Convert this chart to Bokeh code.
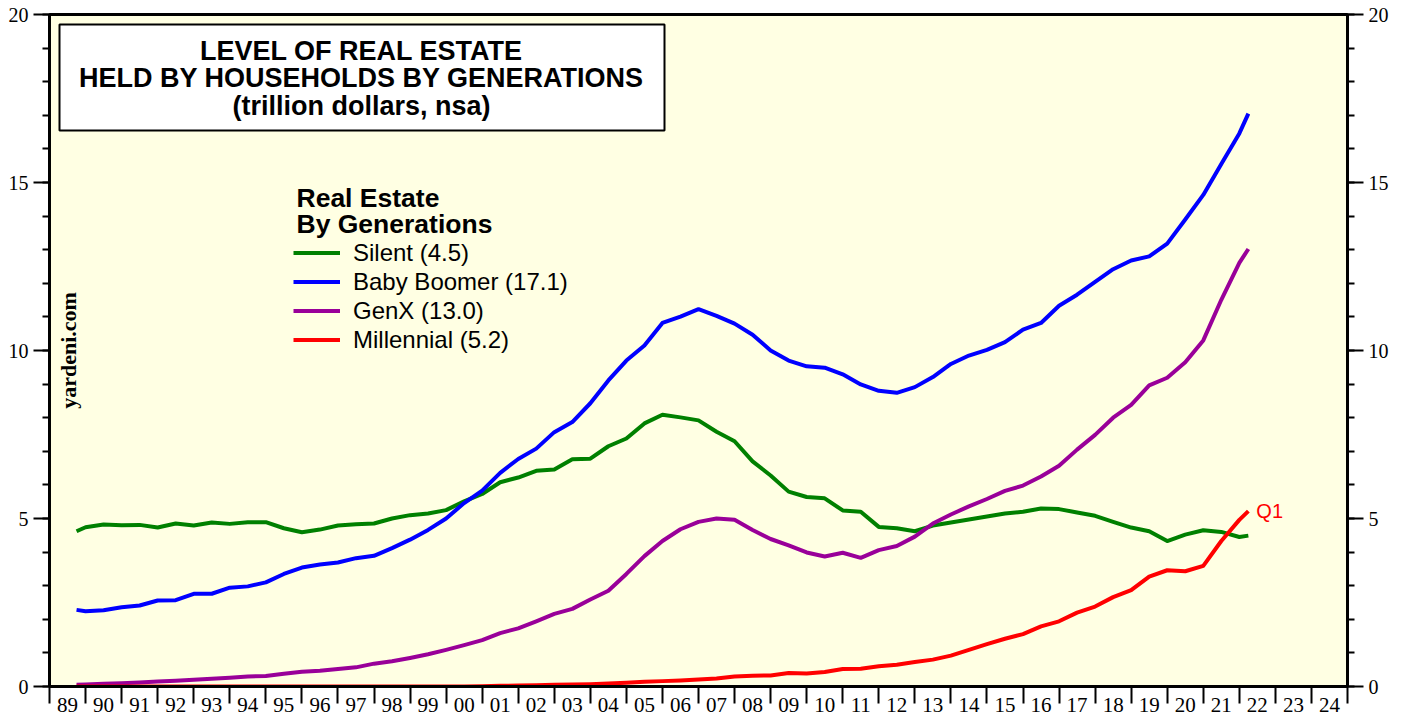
import math
from bokeh.plotting import figure
from bokeh.models import FixedTicker, LinearAxis, Range1d, Label, BoxAnnotation
from bokeh.embed import file_html
from bokeh.resources import INLINE

# ---------------- data (trillion dollars, nsa) ----------------
quarters = ["1989Q3", "1989Q4",
            "1990Q2", "1990Q4", "1991Q2", "1991Q4", "1992Q2", "1992Q4", "1993Q2", "1993Q4",
            "1994Q2", "1994Q4", "1995Q2", "1995Q4", "1996Q2", "1996Q4", "1997Q2", "1997Q4",
            "1998Q2", "1998Q4", "1999Q2", "1999Q4", "2000Q2", "2000Q4", "2001Q2", "2001Q4",
            "2002Q2", "2002Q4", "2003Q2", "2003Q4", "2004Q2", "2004Q4", "2005Q2", "2005Q4",
            "2006Q2", "2006Q4", "2007Q2", "2007Q4", "2008Q2", "2008Q4", "2009Q2", "2009Q4",
            "2010Q2", "2010Q4", "2011Q2", "2011Q4", "2012Q2", "2012Q4", "2013Q2", "2013Q4",
            "2014Q2", "2014Q4", "2015Q2", "2015Q4", "2016Q2", "2016Q4", "2017Q2", "2017Q4",
            "2018Q2", "2018Q4", "2019Q2", "2019Q4", "2020Q2", "2020Q4", "2021Q2", "2021Q4",
            "2022Q1"]

silent = [4.62, 4.74,
          4.82, 4.80, 4.81, 4.73, 4.85, 4.79, 4.88, 4.84,
          4.89, 4.89, 4.71, 4.59, 4.67, 4.79, 4.83, 4.85,
          5.00, 5.10, 5.15, 5.25, 5.51, 5.73, 6.08, 6.22,
          6.42, 6.46, 6.76, 6.78, 7.15, 7.38, 7.83, 8.09,
          8.01, 7.92, 7.58, 7.30, 6.70, 6.28, 5.80, 5.64,
          5.60, 5.24, 5.20, 4.75, 4.71, 4.62, 4.79, 4.88,
          4.97, 5.06, 5.15, 5.20, 5.30, 5.28, 5.18, 5.08,
          4.90, 4.73, 4.62, 4.33, 4.52, 4.65, 4.60, 4.45,
          4.49]

baby_boomer = [2.28, 2.24,
               2.27, 2.36, 2.41, 2.56, 2.57, 2.76, 2.76, 2.94,
               2.98, 3.10, 3.35, 3.54, 3.63, 3.69, 3.82, 3.89,
               4.12, 4.37, 4.66, 5.00, 5.46, 5.83, 6.36, 6.77,
               7.08, 7.57, 7.87, 8.43, 9.11, 9.70, 10.15, 10.82,
               11.01, 11.23, 11.03, 10.80, 10.47, 10.00, 9.70, 9.53,
               9.49, 9.29, 8.99, 8.80, 8.74, 8.91, 9.21, 9.60,
               9.85, 10.02, 10.25, 10.62, 10.82, 11.33, 11.66, 12.04,
               12.42, 12.68, 12.80, 13.18, 13.90, 14.63, 15.55, 16.46,
               17.05]

genx = [0.05, 0.06,
        0.08, 0.10, 0.12, 0.15, 0.17, 0.20, 0.23, 0.26,
        0.30, 0.31, 0.38, 0.44, 0.47, 0.52, 0.57, 0.68,
        0.75, 0.85, 0.96, 1.09, 1.23, 1.38, 1.59, 1.73,
        1.94, 2.16, 2.31, 2.59, 2.85, 3.35, 3.88, 4.33,
        4.68, 4.90, 5.00, 4.96, 4.66, 4.39, 4.20, 3.99,
        3.87, 3.98, 3.83, 4.06, 4.18, 4.46, 4.85, 5.12,
        5.36, 5.58, 5.82, 5.98, 6.25, 6.57, 7.05, 7.49,
        8.00, 8.38, 8.96, 9.19, 9.65, 10.30, 11.51, 12.61,
        13.02]

millennial = [0.00, 0.00,
              0.00, 0.00, 0.00, 0.00, 0.00, 0.00, 0.00, 0.00,
              0.00, 0.00, 0.00, 0.00, 0.00, 0.00, 0.00, 0.00,
              0.00, 0.00, 0.00, 0.00, 0.00, 0.01, 0.02, 0.03,
              0.04, 0.05, 0.06, 0.07, 0.09, 0.11, 0.14, 0.16,
              0.18, 0.21, 0.24, 0.30, 0.32, 0.33, 0.40, 0.39,
              0.43, 0.52, 0.53, 0.60, 0.65, 0.73, 0.80, 0.92,
              1.09, 1.26, 1.42, 1.56, 1.79, 1.94, 2.20, 2.38,
              2.66, 2.87, 3.27, 3.46, 3.43, 3.59, 4.33, 4.96,
              5.22]

series_names = ["Silent (4.5)", "Baby Boomer (17.1)", "GenX (13.0)", "Millennial (5.2)"]
series_colors = ["#008000", "#0000FF", "#990099", "#FF0000"]

year_labels = ["89", "90", "91", "92", "93", "94", "95", "96", "97", "98", "99", "00",
               "01", "02", "03", "04", "05", "06", "07", "08", "09", "10", "11", "12",
               "13", "14", "15", "16", "17", "18", "19", "20", "21", "22", "23", "24"]
first_year = 1989
y_major = [0, 5, 10, 15, 20]

# quarter-end decimal dates
def q2t(q):
    return int(q[:4]) + int(q[5]) / 4.0

t = [q2t(q) for q in quarters]

# ---------------- figure ----------------
p = figure(width=1400, height=719, output_backend="svg", toolbar_location=None,
           x_range=Range1d(first_year, first_year + len(year_labels)),
           y_range=Range1d(0, 20),
           min_border_left=49, min_border_right=53,
           min_border_top=14, min_border_bottom=33)
p.background_fill_color = "#FFFFE3"
p.border_fill_color = "white"
p.outline_line_color = "black"
p.outline_line_width = 3
p.xgrid.visible = False
p.ygrid.visible = False

# x axis: labels at mid-year, tick marks at year boundaries
mid_ticks = [first_year + i + 0.5 for i in range(len(year_labels))]
bound_ticks = [first_year + i for i in range(len(year_labels) + 1)]
xa = p.xaxis[0]
xa.ticker = FixedTicker(ticks=mid_ticks, minor_ticks=bound_ticks)
xa.major_label_overrides = {m: lab for m, lab in zip(mid_ticks, year_labels)}
xa.major_tick_in = 0
xa.major_tick_out = 17
xa.major_tick_line_alpha = 0
xa.minor_tick_in = 0
xa.minor_tick_out = 17
xa.minor_tick_line_width = 2
xa.minor_tick_line_color = "black"
xa.axis_line_width = 3
xa.major_label_standoff = -6
xa.major_label_text_font = "Liberation Serif"
xa.major_label_text_font_size = "21px"
xa.major_label_text_color = "black"

def style_y(ax):
    ax.ticker = FixedTicker(ticks=y_major, minor_ticks=list(range(0, 21)))
    ax.major_tick_in = 0
    ax.major_tick_out = 16
    ax.minor_tick_in = 0
    ax.minor_tick_out = 7
    ax.major_tick_line_width = 2
    ax.minor_tick_line_width = 2
    ax.axis_line_width = 3
    ax.major_label_standoff = 5
    ax.major_label_text_font = "Liberation Serif"
    ax.major_label_text_font_size = "20px"
    ax.major_label_text_color = "black"

style_y(p.yaxis[0])
ra = LinearAxis()
style_y(ra)
p.add_layout(ra, "right")

# ---------------- lines ----------------
for vals, name, col in zip([silent, baby_boomer, genx, millennial], series_names, series_colors):
    p.line(t, vals, line_color=col, line_width=4, line_join="round", legend_label=name)

lg = p.legend[0]
lg.location = (244, 332)
lg.border_line_alpha = 0
lg.background_fill_alpha = 0
lg.label_text_font = "Liberation Sans"
lg.label_text_font_size = "24px"
lg.label_text_color = "black"
lg.glyph_width = 47
lg.glyph_height = 29
lg.label_height = 29
lg.label_standoff = 13
lg.spacing = 0
lg.padding = 0
lg.margin = 0

# legend title
for txt, yy in [("Real Estate", 489), ("By Generations", 463)]:
    p.add_layout(Label(x=247, y=yy, x_units="screen", y_units="screen", text=txt,
                       text_font="Liberation Sans", text_font_style="bold",
                       text_font_size="26.5px", text_baseline="middle", text_color="black"))

# title box
p.add_layout(BoxAnnotation(left=10, right=615, bottom=556, top=662,
                           left_units="screen", right_units="screen",
                           bottom_units="screen", top_units="screen",
                           fill_color="white", fill_alpha=1.0,
                           line_color="black", line_alpha=1.0, line_width=2))
for txt, yy in [("LEVEL OF REAL ESTATE", 636),
                ("HELD BY HOUSEHOLDS BY GENERATIONS", 609),
                ("(trillion dollars, nsa)", 581)]:
    p.add_layout(Label(x=312, y=yy, x_units="screen", y_units="screen", text=txt,
                       text_font="Liberation Sans", text_font_style="bold",
                       text_font_size="27px", text_align="center",
                       text_baseline="middle", text_color="black"))

# watermark
p.add_layout(Label(x=19, y=336, x_units="screen", y_units="screen", text="yardeni.com",
                   angle=math.pi / 2, text_font="Liberation Serif", text_font_style="bold",
                   text_font_size="22px", text_align="center", text_baseline="middle",
                   text_color="black"))

# last-point marker
p.add_layout(Label(x=t[-1], y=millennial[-1], x_offset=8, text="Q1",
                   text_font="Liberation Sans", text_font_size="20px",
                   text_baseline="middle", text_color="#FF0000"))

open("out.html", "w").write(file_html(p, INLINE))
